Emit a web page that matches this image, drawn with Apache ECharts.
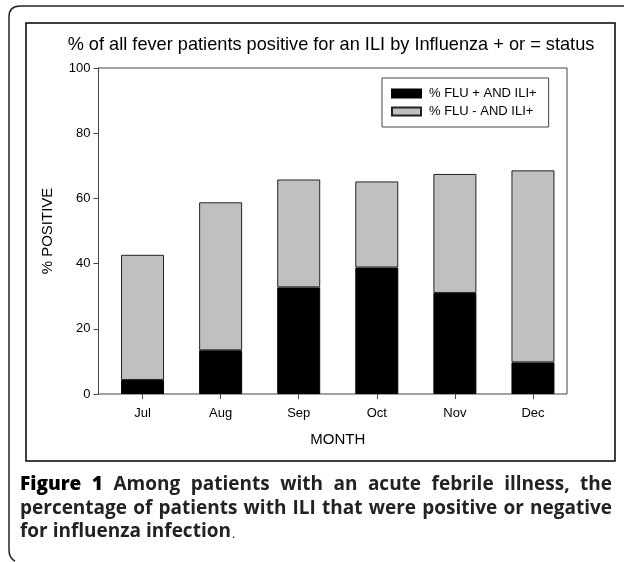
<!DOCTYPE html>
<html>
<head>
<meta charset="utf-8">
<script src="https://cdn.jsdelivr.net/npm/echarts@6/dist/echarts.min.js"></script>
<style>
html,body{margin:0;padding:0;background:#fff;}
#chart{width:624px;height:562px;}
</style>
</head>
<body>
<div id="chart"></div>
<script>
var months = ['Jul', 'Aug', 'Sep', 'Oct', 'Nov', 'Dec'];
var fluPos = [4.3, 13.4, 32.7, 38.8, 31.0, 9.7];
var totalIli = [42.7, 58.8, 65.8, 65.2, 67.5, 68.6];
var fluNeg = totalIli.map(function (t, i) { return +(t - fluPos[i]).toFixed(1); });
var yTicks = { min: 0, max: 100, interval: 20 };
var seriesNames = ['% FLU + AND ILI+', '% FLU - AND ILI+'];
var chartTitle = '% of all fever patients positive for an ILI by Influenza + or = status';
var captionLines = [
  ['Figure 1', 'Among patients with an acute febrile illness, the'],
  ['', 'percentage of patients with ILI that were positive or negative'],
  ['', 'for influenza infection']
];

var chart = echarts.init(document.getElementById('chart'));
var font = '"Liberation Sans", Arial, sans-serif';
var capFont = '"Open Sans", "DejaVu Sans", sans-serif';
var frameStyle = { fill: 'none', stroke: '#222', lineWidth: 1.5 };
var capSize = 19;

// build justified caption words
var ctx = document.createElement('canvas').getContext('2d');
function measure(t, weight) { ctx.font = weight + ' ' + capSize + 'px ' + capFont; return ctx.measureText(t).width; }
var capLeft = 20, capRight = 612, capTops = [485, 509, 532];
var captionEls = [];
captionLines.forEach(function (ln, li) {
  var words = [];
  if (ln[0]) ln[0].split(' ').forEach(function (w) { words.push({ t: w, w: 800 }); });
  ln[1].split(' ').forEach(function (w) { words.push({ t: w, w: 700 }); });
  var justify = li < captionLines.length - 1;
  var total = 0;
  words.forEach(function (o) { o.width = measure(o.t, o.w); total += o.width; });
  var space = measure(' ', 700);
  var gap = justify ? Math.max(space * 0.8, (capRight - capLeft - total) / (words.length - 1)) : space;
  var x = capLeft;
  words.forEach(function (o, i) {
    captionEls.push({
      type: 'text', x: x, y: capTops[li], silent: true,
      style: { text: o.t, fontFamily: capFont, fontSize: capSize, fontWeight: o.w, fill: o.w === 800 ? '#000' : '#222', verticalAlign: 'middle', textAlign: 'left' }
    });
    x += o.width + gap;
  });
  if (!justify) {
    captionEls.push({
      type: 'text', x: x - gap + 1, y: capTops[li] + 3, silent: true,
      style: { text: '.', fontFamily: capFont, fontSize: 12, fontWeight: 400, fill: '#111', verticalAlign: 'middle' }
    });
  }
});

chart.setOption({
  animation: false,
  backgroundColor: '#fff',
  legend: {
    orient: 'vertical', left: 382, top: 78,
    padding: [9, 12, 9, 9], itemGap: 5, itemWidth: 29, itemHeight: 8,
    borderColor: '#444', borderWidth: 1,
    data: seriesNames,
    textStyle: { fontFamily: font, fontSize: 13, color: '#000', padding: [0, 0, 0, 3] },
    icon: 'rect'
  },
  grid: [
    { left: 98.5, right: 57, top: 68, bottom: 168, show: true, borderColor: '#444', borderWidth: 1, backgroundColor: 'transparent' },
    { left: 103.5, right: 52, top: 68, bottom: 168 }
  ],
  xAxis: [
    { gridIndex: 0, type: 'category', data: months, show: false },
    {
      gridIndex: 1, type: 'category', data: months,
      name: 'MONTH', nameLocation: 'middle', nameGap: 38,
      nameTextStyle: { fontFamily: font, fontSize: 15, color: '#000' },
      axisLine: { show: false },
      axisTick: { show: true, alignWithLabel: true, length: 5, lineStyle: { color: '#444' } },
      axisLabel: { fontFamily: font, fontSize: 13, color: '#000', margin: 13 }
    }
  ],
  yAxis: [
    {
      gridIndex: 0, type: 'value', min: yTicks.min, max: yTicks.max, interval: yTicks.interval,
      name: '% POSITIVE', nameLocation: 'middle', nameGap: 43, nameRotate: 90,
      nameTextStyle: { fontFamily: font, fontSize: 15, color: '#000' },
      axisLine: { show: true, lineStyle: { color: '#444' } },
      axisTick: { show: true, length: 5, lineStyle: { color: '#444' } },
      splitLine: { show: false },
      axisLabel: { fontFamily: font, fontSize: 13, color: '#000', margin: 8 }
    },
    { gridIndex: 1, type: 'value', min: yTicks.min, max: yTicks.max, show: false, splitLine: { show: false } }
  ],
  series: [
    {
      name: seriesNames[0], type: 'bar', stack: 'ili', xAxisIndex: 1, yAxisIndex: 1,
      data: fluPos, barWidth: 43,
      itemStyle: { color: '#000', borderColor: '#000', borderWidth: 1 }
    },
    {
      name: seriesNames[1], type: 'bar', stack: 'ili', xAxisIndex: 1, yAxisIndex: 1,
      data: fluNeg, barWidth: 43,
      itemStyle: { color: '#c0c0c0', borderColor: '#222', borderWidth: 1 }
    }
  ],
  graphic: [
    { type: 'rect', shape: { x: 26, y: 23, width: 589, height: 438 }, style: { fill: 'none', stroke: '#000', lineWidth: 1.5 }, silent: true, z: -1 },
    { type: 'line', shape: { x1: 624, y1: 6, x2: 20, y2: 6 }, style: frameStyle, silent: true },
    { type: 'bezierCurve', shape: { x1: 20, y1: 6, cpx1: 9, cpy1: 6, x2: 9, y2: 17 }, style: frameStyle, silent: true },
    { type: 'line', shape: { x1: 9, y1: 17, x2: 9, y2: 550 }, style: frameStyle, silent: true },
    { type: 'bezierCurve', shape: { x1: 9, y1: 550, cpx1: 9, cpy1: 558, x2: 15, y2: 561 }, style: frameStyle, silent: true },
    {
      type: 'text', x: 331, y: 45, silent: true,
      style: { text: chartTitle, fontFamily: font, fontSize: 18.2, fill: '#000', textAlign: 'center', verticalAlign: 'middle' }
    }
  ].concat(captionEls)
});
</script>
</body>
</html>
